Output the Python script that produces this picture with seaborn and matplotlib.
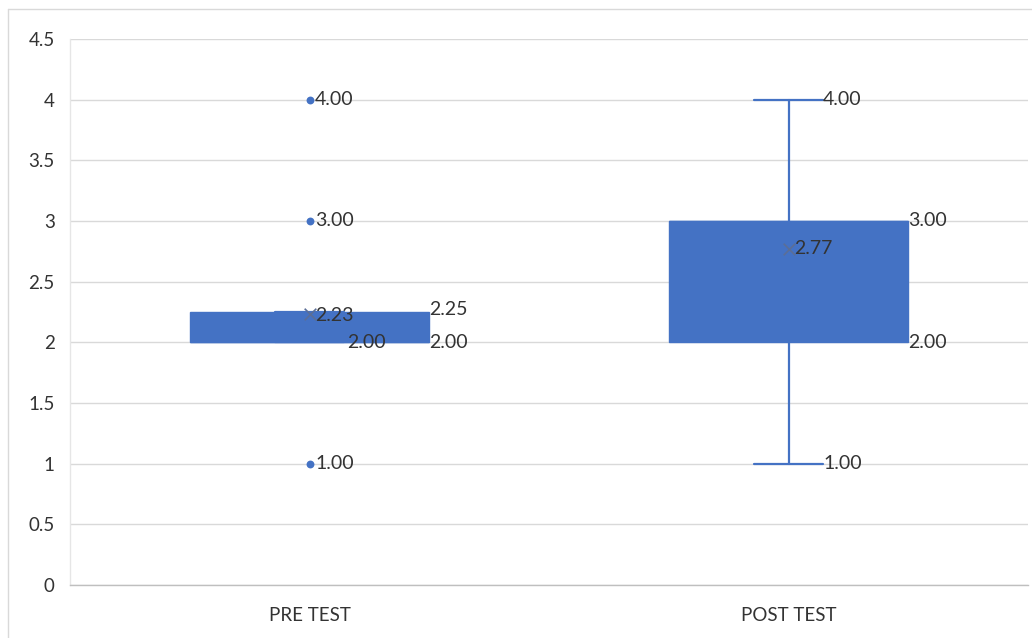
import numpy as np
import pandas as pd
import matplotlib.pyplot as plt
import seaborn as sns

# summary values
groups = ["PRE TEST", "POST TEST"]
q1 = [2.00, 2.00]
q3 = [2.25, 3.00]
medians = [2.00, 3.00]
whisker_low = [2.00, 1.00]
whisker_high = [2.25, 4.00]
means = [2.23, 2.77]
pre_outliers = [1.00, 3.00, 4.00]

blue = "#4472C4"
text_col = "#333333"

sns.set_theme(style="whitegrid")
plt.rcParams["font.family"] = ["Lato", "DejaVu Sans"]

fig = plt.figure(figsize=(10.32, 6.38), dpi=100)
ax = fig.add_axes([70 / 1032, 1 - 585 / 638, 958 / 1032, 546 / 638])

stats = []
for i, g in enumerate(groups):
    stats.append(dict(label=g, q1=q1[i], q3=q3[i], med=medians[i],
                      whislo=whisker_low[i], whishi=whisker_high[i],
                      mean=means[i], fliers=[]))

ax.bxp(stats, positions=range(len(groups)), widths=0.5, patch_artist=True,
       showfliers=False, showmeans=False,
       boxprops=dict(facecolor=blue, edgecolor=blue, linewidth=1),
       medianprops=dict(color=blue, linewidth=1),
       whiskerprops=dict(color=blue, linewidth=1.6),
       capprops=dict(color=blue, linewidth=1.6), capwidths=0.145)

# outliers and means
out_df = pd.DataFrame({"x": [0] * len(pre_outliers), "y": pre_outliers})
sns.scatterplot(data=out_df, x="x", y="y", ax=ax, color=blue, s=32,
                edgecolor=blue, linewidth=0, zorder=4)
mean_df = pd.DataFrame({"x": range(len(groups)), "y": means})
sns.scatterplot(data=mean_df, x="x", y="y", ax=ax, marker="x", color="#5B6E96",
                s=70, linewidth=1.2, zorder=4)

lab = dict(fontsize=14, color=text_col, va="center", ha="left",
           textcoords="offset points", zorder=5)
# pre test labels
for v in pre_outliers:
    ax.annotate(f"{v:.2f}", (0, v), xytext=(4, 0), **lab)
ax.annotate(f"{means[0]:.2f}", (0, means[0]), xytext=(4, -1), **lab)
ax.annotate(f"{medians[0]:.2f}", (0, medians[0]), xytext=(27, 0), **lab)
ax.annotate(f"{q3[0]:.2f}", (0.25, q3[0]), xytext=(0, 2), **lab)
ax.annotate(f"{q1[0]:.2f}", (0.25, q1[0]), xytext=(0, 0), **lab)
# post test labels
ax.annotate(f"{whisker_high[1]:.2f}", (1.0725, whisker_high[1]), xytext=(0, 0), **lab)
ax.annotate(f"{whisker_low[1]:.2f}", (1.0725, whisker_low[1]), xytext=(0, 0), **lab)
ax.annotate(f"{means[1]:.2f}", (1, means[1]), xytext=(4, 0), **lab)
ax.annotate(f"{q3[1]:.2f}", (1.25, q3[1]), xytext=(0, 0), **lab)
ax.annotate(f"{q1[1]:.2f}", (1.25, q1[1]), xytext=(0, 0), **lab)

ax.set_xlim(-0.5, 1.5)
ax.set_ylim(0, 4.5)
ax.set_yticks(np.arange(0, 4.51, 0.5))
ax.set_yticklabels(["0", "0.5", "1", "1.5", "2", "2.5", "3", "3.5", "4", "4.5"])
ax.set_xticks(range(len(groups)))
ax.set_xticklabels(groups)
ax.tick_params(axis="y", labelsize=13.5, labelcolor=text_col, pad=11, length=0)
ax.tick_params(axis="x", labelsize=13.5, labelcolor=text_col, pad=16, length=0)
ax.set_xlabel("")
ax.set_ylabel("")
ax.grid(axis="y", color="#D9D9D9", linewidth=1)
ax.grid(axis="x", visible=False)
ax.set_facecolor("white")
for s in ["top", "right"]:
    ax.spines[s].set_visible(False)
ax.spines["left"].set_color("#E6E6E6")
ax.spines["bottom"].set_color("#BFBFBF")
ax.spines["left"].set_linewidth(1)
ax.spines["bottom"].set_linewidth(1)

# chart area border (cropped at right and bottom)
fig.add_artist(plt.Line2D([8 / 1032, 1], [1 - 9 / 638, 1 - 9 / 638], color="#D9D9D9", lw=1))
fig.add_artist(plt.Line2D([8 / 1032, 8 / 1032], [0, 1 - 9 / 638], color="#D9D9D9", lw=1))

fig.savefig("out.png", dpi=100, facecolor="white")
